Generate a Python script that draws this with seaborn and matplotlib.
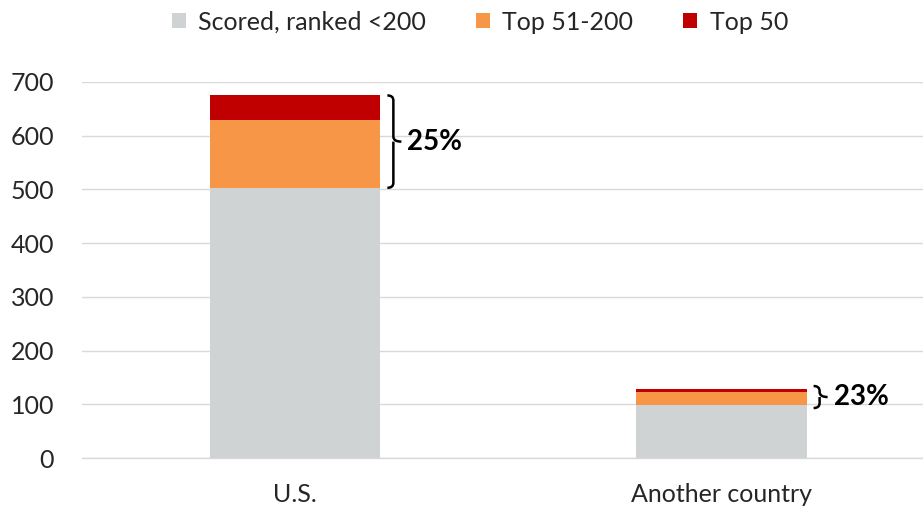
import numpy as np
import pandas as pd
import matplotlib
matplotlib.use("Agg")
import matplotlib.pyplot as plt
from matplotlib.patches import Patch, PathPatch
from matplotlib.path import Path
import seaborn as sns

countries = ["U.S.", "Another country"]
scored = [503, 99]
top_51_200 = [126, 23]
top_50 = [46, 6]
share_labels = ["25%", "23%"]

series_names = ["Scored, ranked <200", "Top 51-200", "Top 50"]
colors = ["#D0D3D4", "#F79646", "#C00000"]

df = pd.DataFrame({"country": countries, "scored": scored,
                   "top_51_200": top_51_200, "top_50": top_50})
df["lvl1"] = df["scored"]
df["lvl2"] = df["scored"] + df["top_51_200"]
df["lvl3"] = df["lvl2"] + df["top_50"]

sns.set_style("white")
plt.rcParams["font.family"] = ["Lato", "DejaVu Sans"]

fig = plt.figure(figsize=(9.23, 5.08), dpi=100)
ax = fig.add_axes([82 / 923, 50 / 508, (923 - 82) / 923, (458 - 82) / 508])

# stacked bars drawn back to front (cumulative heights)
for col, c in zip(["lvl3", "lvl2", "lvl1"], colors[::-1]):
    sns.barplot(data=df, x="country", y=col, color=c, width=0.4,
                saturation=1, ax=ax, zorder=3, linewidth=0, edgecolor="none")

ax.set_xlim(-0.5, 1.5 - 11.5 / 427)
ax.set_ylim(0, 700)
ax.set_yticks(range(0, 701, 100))
ax.grid(axis="y", color="#D9D9D9", linewidth=1, zorder=0)
ax.set_axisbelow(True)
for s in ["left", "right", "top"]:
    ax.spines[s].set_visible(False)
ax.spines["bottom"].set_color("#D9D9D9")
ax.spines["bottom"].set_linewidth(1)
ax.set_xlabel("")
ax.set_ylabel("")
ax.tick_params(axis="y", length=0, pad=20, labelsize=18, labelcolor="#262626")
ax.tick_params(axis="x", length=0, pad=18, labelsize=18, labelcolor="#262626")

# pixel -> data conversions
px_x = ax.bbox.width / (ax.get_xlim()[1] - ax.get_xlim()[0])
px_y = ax.bbox.height / (ax.get_ylim()[1] - ax.get_ylim()[0])


def brace(ax, i, y0, y1, label):
    xr_bar = i + 0.2
    x_hook = xr_bar + 7 / px_x
    x_spine = xr_bar + 13 / px_x
    x_nub = xr_bar + 21 / px_x
    ym = (y0 + y1) / 2
    half = max((y1 - y0) / 2, 11 / px_y)
    y0, y1 = ym - half, ym + half
    r = min(5 / px_y, half / 2)
    verts = [(x_hook, y1), (x_spine, y1), (x_spine, y1 - r),
             (x_spine, ym + r), (x_spine, ym), (x_nub, ym),
             (x_spine, ym), (x_spine, ym - r),
             (x_spine, y0 + r), (x_spine, y0), (x_hook, y0)]
    codes = [Path.MOVETO, Path.CURVE3, Path.CURVE3,
             Path.LINETO, Path.CURVE3, Path.CURVE3,
             Path.MOVETO, Path.CURVE3,
             Path.LINETO, Path.CURVE3, Path.CURVE3]
    ax.add_patch(PathPatch(Path(verts, codes), fill=False, lw=1.8,
                           edgecolor="black", zorder=4, clip_on=False))
    ax.text(x_nub + 6 / px_x, ym, label, fontsize=20, fontweight="bold",
            va="center", ha="left", color="black")


for i in range(len(countries)):
    brace(ax, i, df["lvl1"][i], df["lvl3"][i], share_labels[i])

handles = [Patch(facecolor=c, edgecolor="none") for c in colors]
fig.legend(handles, series_names, loc="center", bbox_to_anchor=(480 / 923, 1 - 22 / 508),
           ncol=3, frameon=False, fontsize=18, handlelength=0.55, handleheight=0.55,
           handletextpad=0.5, columnspacing=2.0, labelcolor="#262626")

fig.savefig("out.png", dpi=100)
